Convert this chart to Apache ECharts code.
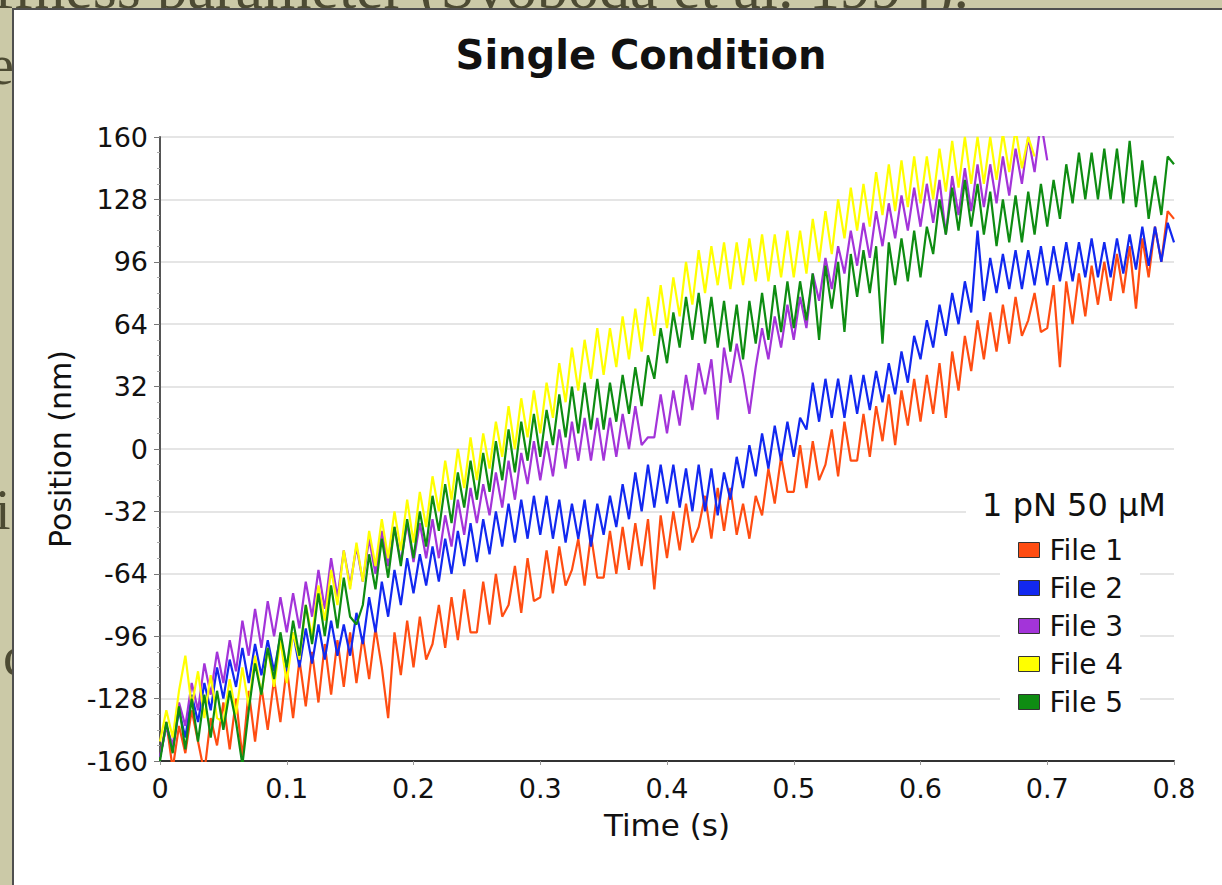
<!DOCTYPE html>
<html>
<head>
<meta charset="utf-8">
<title>Single Condition</title>
<script src="https://cdn.jsdelivr.net/npm/echarts@6/dist/echarts.min.js"></script>
<style>
html,body{margin:0;padding:0;background:#cbc9a7;overflow:hidden;}
#chart{width:1222px;height:885px;}
</style>
</head>
<body>
<div id="chart"></div>
<script>
// ---------------- data ----------------
const chartTitle = 'Single Condition';
const legendTitle = '1 pN 50 μM';
const xAxisName = 'Time (s)';
const yAxisName = 'Position (nm)';
const seriesNames = ['File 1', 'File 2', 'File 3', 'File 4', 'File 5'];
const seriesColors = ['#ff4d12', '#1228f0', '#a334d9', '#ffff00', '#0e8c12'];
const sampleStep = 0.005;      // seconds between samples
const xTicks = [0, 0.1, 0.2, 0.3, 0.4, 0.5, 0.6, 0.7, 0.8];
const yTicks = [-160, -128, -96, -64, -32, 0, 32, 64, 96, 128, 160];

// Position (nm) of each trace, one value per sample step from t = 0
const file1 = [
  -158,-140,-164,-142,-156,-134,-150,-166,-138,-152,
  -130,-154,-128,-158,-124,-150,-122,-144,-118,-140,
  -112,-138,-108,-132,-104,-130,-100,-126,-98,-122,
  -94,-120,-96,-118,-92,-112,-138,-94,-116,-88,
  -112,-86,-108,-100,-80,-102,-76,-98,-72,-94,
  -94,-68,-90,-64,-86,-80,-60,-84,-56,-78,
  -76,-52,-74,-50,-70,-62,-46,-70,-44,-66,
  -66,-42,-64,-40,-62,-38,-60,-36,-72,-34,
  -56,-32,-52,-28,-48,-40,-24,-46,-20,-42,
  -20,-44,-28,-46,-24,-34,-10,-28,-4,-22,
  -22,2,-20,4,-16,-8,10,-14,14,-6,
  -6,18,-4,22,4,28,2,30,12,36,
  14,38,18,44,16,50,30,58,40,66,
  46,70,50,74,54,78,58,66,80,60,
  62,84,42,86,64,90,68,94,74,96,
  76,100,80,104,72,108,88,114,96,122,
  118
];
const file2 = [
  -158,-142,-154,-134,-148,-126,-140,-120,-134,-112,
  -128,-108,-122,-102,-120,-100,-116,-98,-114,-96,
  -114,-94,-112,-92,-110,-90,-108,-88,-106,-90,
  -106,-84,-100,-76,-94,-68,-86,-62,-80,-56,
  -74,-54,-70,-50,-68,-46,-64,-42,-60,-38,
  -58,-36,-54,-32,-50,-28,-48,-26,-46,-24,
  -44,-24,-46,-26,-48,-28,-46,-26,-50,-28,
  -44,-24,-40,-18,-36,-12,-32,-8,-30,-8,
  -28,-8,-30,-10,-32,-8,-32,-10,-34,-12,
  -26,-4,-20,2,-14,8,-10,12,-6,14,
  -4,16,10,34,14,36,16,36,16,38,
  18,38,20,40,24,44,28,50,34,58,
  46,66,52,74,58,80,64,86,70,112,
  76,98,80,100,82,102,82,102,84,104,
  84,104,86,106,86,106,88,108,88,106,
  88,108,90,110,92,114,94,114,96,116,
  106
];
const file3 = [
  -158,-142,-152,-130,-142,-120,-134,-110,-126,-104,
  -120,-98,-114,-88,-106,-82,-102,-78,-96,-76,
  -94,-74,-92,-68,-86,-62,-82,-56,-76,-52,
  -70,-50,-68,-46,-64,-42,-60,-40,-58,-38,
  -58,-38,-56,-36,-56,-34,-50,-26,-44,-20,
  -38,-18,-34,-12,-30,-6,-26,-2,-18,4,
  -16,4,-14,10,-10,14,-6,16,-6,16,
  -6,16,-4,18,0,22,2,6,6,28,
  8,30,12,38,20,44,28,46,15,52,
  34,54,38,18,42,62,46,68,52,74,
  56,78,62,90,76,98,82,104,90,112,
  94,116,98,122,104,126,108,130,112,134,
  114,136,116,138,110,140,120,144,122,146,
  124,146,126,150,130,154,136,160,142,168,
  148
];
const file4 = [
  -150,-134,-148,-124,-106,-132,-114,-138,-116,-138,
  -140,-118,-136,-112,-132,-106,-126,-102,-122,-98,
  -120,-94,-108,-80,-96,-70,-88,-62,-80,-52,
  -72,-48,-68,-42,-60,-36,-56,-32,-52,-26,
  -48,-22,-40,-14,-32,-6,-26,0,-20,6,
  -16,8,-10,14,-4,22,0,26,6,30,
  8,34,16,44,24,52,30,56,36,62,
  38,62,42,68,46,72,50,78,58,84,
  62,88,68,96,74,102,80,104,84,106,
  82,106,84,108,86,110,86,110,88,112,
  88,112,90,118,96,122,100,128,108,134,
  112,136,114,142,120,146,122,148,124,150,
  126,150,128,154,132,158,134,160,136,160,
  136,160,138,162,142,164,144,160,150
];
const file5 = [
  -160,-140,-156,-132,-154,-128,-150,-126,-148,-124,
  -144,-124,-140,-162,-134,-110,-126,-102,-118,-94,
  -112,-88,-106,-80,-100,-74,-96,-70,-92,-66,
  -86,-90,-80,-54,-72,-46,-66,-40,-60,-36,
  -56,-32,-50,-24,-42,-18,-38,-12,-30,-6,
  -26,-2,-22,4,-16,10,-12,14,-6,18,
  -4,20,2,28,6,32,8,34,10,36,
  10,34,14,38,18,42,22,48,36,62,
  44,70,52,78,56,80,54,78,52,76,
  50,74,46,76,54,80,56,84,60,86,
  62,86,66,90,56,94,72,96,60,100,
  78,102,80,104,54,106,84,108,86,112,
  88,114,100,128,110,134,112,138,114,136,
  110,132,104,128,106,130,106,132,110,136,
  114,138,118,146,126,152,128,152,128,154,
  128,154,126,158,124,148,118,140,120,150,
  146
];
const allFiles = [file1, file2, file3, file4, file5];

// ---------------- chart ----------------
const FONT = "'DejaVu Sans', 'Liberation Sans', sans-serif";
const SERIF = "'Liberation Serif', 'DejaVu Serif', serif";
const toPairs = arr => arr.map((v, i) => [+(i * sampleStep).toFixed(3), v]);

const chart = echarts.init(document.getElementById('chart'), null, { renderer: 'svg' });

const option = {
  backgroundColor: '#cbc9a7',
  animation: false,
  grid: { left: 160, right: 48, top: 137, bottom: 124 },
  xAxis: {
    type: 'value',
    min: xTicks[0], max: xTicks[xTicks.length - 1], interval: 0.1,
    name: xAxisName, nameLocation: 'middle', nameGap: 48,
    nameTextStyle: { fontFamily: FONT, fontSize: 31, color: '#111' },
    axisLine: { show: true, onZero: false, lineStyle: { color: '#333', width: 2 } },
    axisTick: { show: true, length: 4, lineStyle: { color: '#999' } },
    axisLabel: { fontFamily: FONT, fontSize: 27, color: '#111', margin: 14,
                 formatter: v => String(+v.toFixed(1)) },
    splitLine: { show: false }
  },
  yAxis: {
    type: 'value',
    min: yTicks[0], max: yTicks[yTicks.length - 1], interval: 32,
    name: yAxisName, nameLocation: 'middle', nameGap: 82,
    nameTextStyle: { fontFamily: FONT, fontSize: 30, color: '#111' },
    axisLine: { show: true, onZero: false, lineStyle: { color: '#555', width: 2 } },
    axisTick: { show: true, length: 6, lineStyle: { color: '#777' } },
    minorTick: { show: true, splitNumber: 4, length: 3, lineStyle: { color: '#aaa' } },
    axisLabel: { fontFamily: FONT, fontSize: 27, color: '#111', margin: 12 },
    splitLine: { show: true, lineStyle: { color: '#dcdcdc', width: 1.5 } }
  },
  legend: {
    data: seriesNames,
    orient: 'vertical', left: 1000, top: 532,
    padding: [4, 17, 4, 18],
    backgroundColor: '#fff',
    icon: 'rect', itemWidth: 21, itemHeight: 15, itemGap: 10,
    itemStyle: { borderColor: '#333', borderWidth: 1 },
    textStyle: { fontFamily: FONT, fontSize: 28, lineHeight: 28, color: '#111', padding: [0, 0, 0, 5] }
  },
  graphic: { elements: [
    { type: 'text', silent: true, z: -20, x: -6, y: -13,
      style: { text: 'ffness parameter (Svoboda et al. 1994).', font: '62px ' + SERIF, fill: '#4d4b33',
               textAlign: 'left', textVerticalAlign: 'middle' } },
    { type: 'text', silent: true, z: -20, x: -11, y: 65,
      style: { text: 'e', font: '56px ' + SERIF, fill: '#4d4b33', textAlign: 'left', textVerticalAlign: 'middle' } },
    { type: 'text', silent: true, z: -20, x: -5, y: 510,
      style: { text: 'i', font: '56px ' + SERIF, fill: '#4d4b33', textAlign: 'left', textVerticalAlign: 'middle' } },
    { type: 'text', silent: true, z: -20, x: 3, y: 656,
      style: { text: 'c', font: '56px ' + SERIF, fill: '#4d4b33', textAlign: 'left', textVerticalAlign: 'middle' } },
    { type: 'rect', silent: true, z: -10,
      shape: { x: 13, y: 9, width: 1215, height: 880 },
      style: { fill: '#ffffff', stroke: '#4f4f4f', lineWidth: 2 } },
    { type: 'text', silent: true, z: 10, x: 641, y: 55,
      style: { text: chartTitle, font: 'bold 40px ' + FONT, fill: '#111', textAlign: 'center', textVerticalAlign: 'middle' } },
    { type: 'rect', silent: true, z: 10,
      shape: { x: 966, y: 489, width: 208, height: 33 },
      style: { fill: '#ffffff' } },
    { type: 'text', silent: true, z: 11, x: 1074, y: 505,
      style: { text: legendTitle, font: '32px ' + FONT, fill: '#111', textAlign: 'center', textVerticalAlign: 'middle' } }
  ] },
  series: seriesNames.map((name, k) => ({
    name: name,
    type: 'line',
    data: toPairs(allFiles[k]),
    showSymbol: false,
    symbol: 'none',
    sampling: null,
    lineStyle: { width: 2.2, color: seriesColors[k] },
    itemStyle: { color: seriesColors[k] },
    emphasis: { disabled: true }
  }))
};
chart.setOption(option);
</script>
</body>
</html>
